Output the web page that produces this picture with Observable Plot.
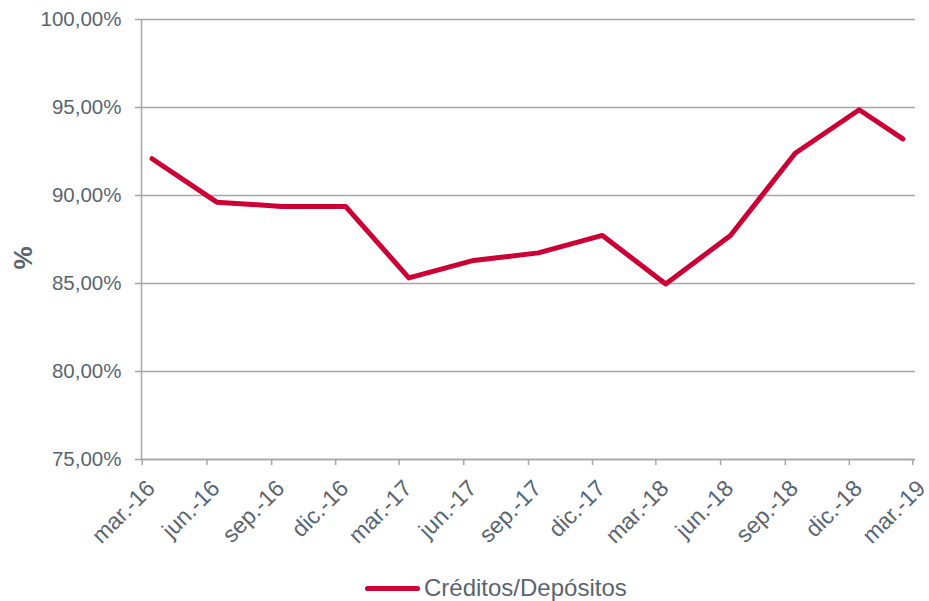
<!DOCTYPE html>
<html>
<head>
<meta charset="utf-8">
<script src="https://cdn.jsdelivr.net/npm/d3@7"></script>
<script src="https://cdn.jsdelivr.net/npm/@observablehq/plot@0.6"></script>
<style>
  body { margin: 0; background: #ffffff; font-family: "Liberation Sans", Arial, sans-serif; }
  #wrap { position: relative; width: 929px; height: 601px; }
  #legend { position: absolute; left: 365px; top: 576px; display: flex; align-items: center; color: #5a6570; font-size: 24px; line-height: 24px; }
  #legend .sw { width: 55px; height: 5px; border-radius: 3px; background: #cc0035; margin-right: 4px; }
</style>
</head>
<body>
<div id="wrap">
  <div id="chart"></div>
  <div id="legend"><span class="sw"></span><span>Créditos/Depósitos</span></div>
</div>
<script>
// Data (ratio créditos / depósitos, %)
const periods = ["2016-03-15", "2016-06-15", "2016-09-15", "2016-12-15", "2017-03-15", "2017-06-15", "2017-09-15", "2017-12-15", "2018-03-15", "2018-06-15", "2018-09-15", "2018-12-15", "2019-02-15"];
const ratio = [92.09, 89.62, 89.38, 89.38, 85.32, 86.31, 86.74, 87.73, 84.97, 87.73, 92.40, 94.87, 93.22];
const tickDates = ["2016-03-01", "2016-06-01", "2016-09-01", "2016-12-01", "2017-03-01", "2017-06-01", "2017-09-01", "2017-12-01", "2018-03-01", "2018-06-01", "2018-09-01", "2018-12-01", "2019-03-01"];
const tickLabels = ["mar.-16", "jun.-16", "sep.-16", "dic.-16", "mar.-17", "jun.-17", "sep.-17", "dic.-17", "mar.-18", "jun.-18", "sep.-18", "dic.-18", "mar.-19"];
const yTicks = [75, 80, 85, 90, 95, 100];
const seriesName = "Créditos/Depósitos";
const yTitle = "%";

const data = periods.map((p, i) => ({date: new Date(p), value: ratio[i]}));
const ticks = tickDates.map(d => new Date(d));
const labelOf = new Map(ticks.map((d, i) => [d.getTime(), tickLabels[i]]));
const xDomain = [new Date("2016-02-29"), new Date("2019-03-05")];

const textColor = "#5a6570";
const gridColor = "#a6a6a6";

const chart = Plot.plot({
  width: 929,
  height: 560,
  marginLeft: 141,
  marginRight: 14,
  marginTop: 19,
  marginBottom: 101,
  style: {fontFamily: "'Liberation Sans', Arial, sans-serif", color: textColor, background: "#ffffff"},
  x: {type: "time", domain: xDomain},
  y: {domain: [75, 100]},
  marks: [
    Plot.gridY(yTicks, {stroke: gridColor, strokeOpacity: 1, strokeWidth: 1.5}),
    Plot.ruleY([75], {stroke: gridColor, strokeWidth: 1.5}),
    Plot.ruleX([xDomain[0]], {stroke: gridColor, strokeWidth: 1.5}),
    Plot.axisY(yTicks, {
      tickFormat: d => d.toFixed(2).replace(".", ",") + "%",
      tickSize: 6, tickPadding: 14, fontSize: 20.5,
      stroke: gridColor, strokeWidth: 1.5, fill: textColor, label: null
    }),
    // x tick marks
    Plot.axisX(ticks, {
      tickFormat: () => "", tickSize: 6,
      stroke: gridColor, strokeWidth: 1.5, label: null
    }),
    // x tick labels
    Plot.axisX(ticks, {
      tickFormat: d => labelOf.get(d.getTime()),
      tickRotate: -45, tickSize: 0, tickPadding: 0, fontSize: 23,
      dx: 9, dy: 25,
      fill: textColor, label: null
    }),
    Plot.text([yTitle], {frameAnchor: "left", dx: -118, dy: 30, rotate: -90, fontSize: 26, fontWeight: "bold", fill: textColor}),
    Plot.line(data, {x: "date", y: "value", stroke: "#cc0035", strokeWidth: 5, strokeLinecap: "round", strokeLinejoin: "round"})
  ]
});
document.getElementById("chart").appendChild(chart);
</script>
</body>
</html>
